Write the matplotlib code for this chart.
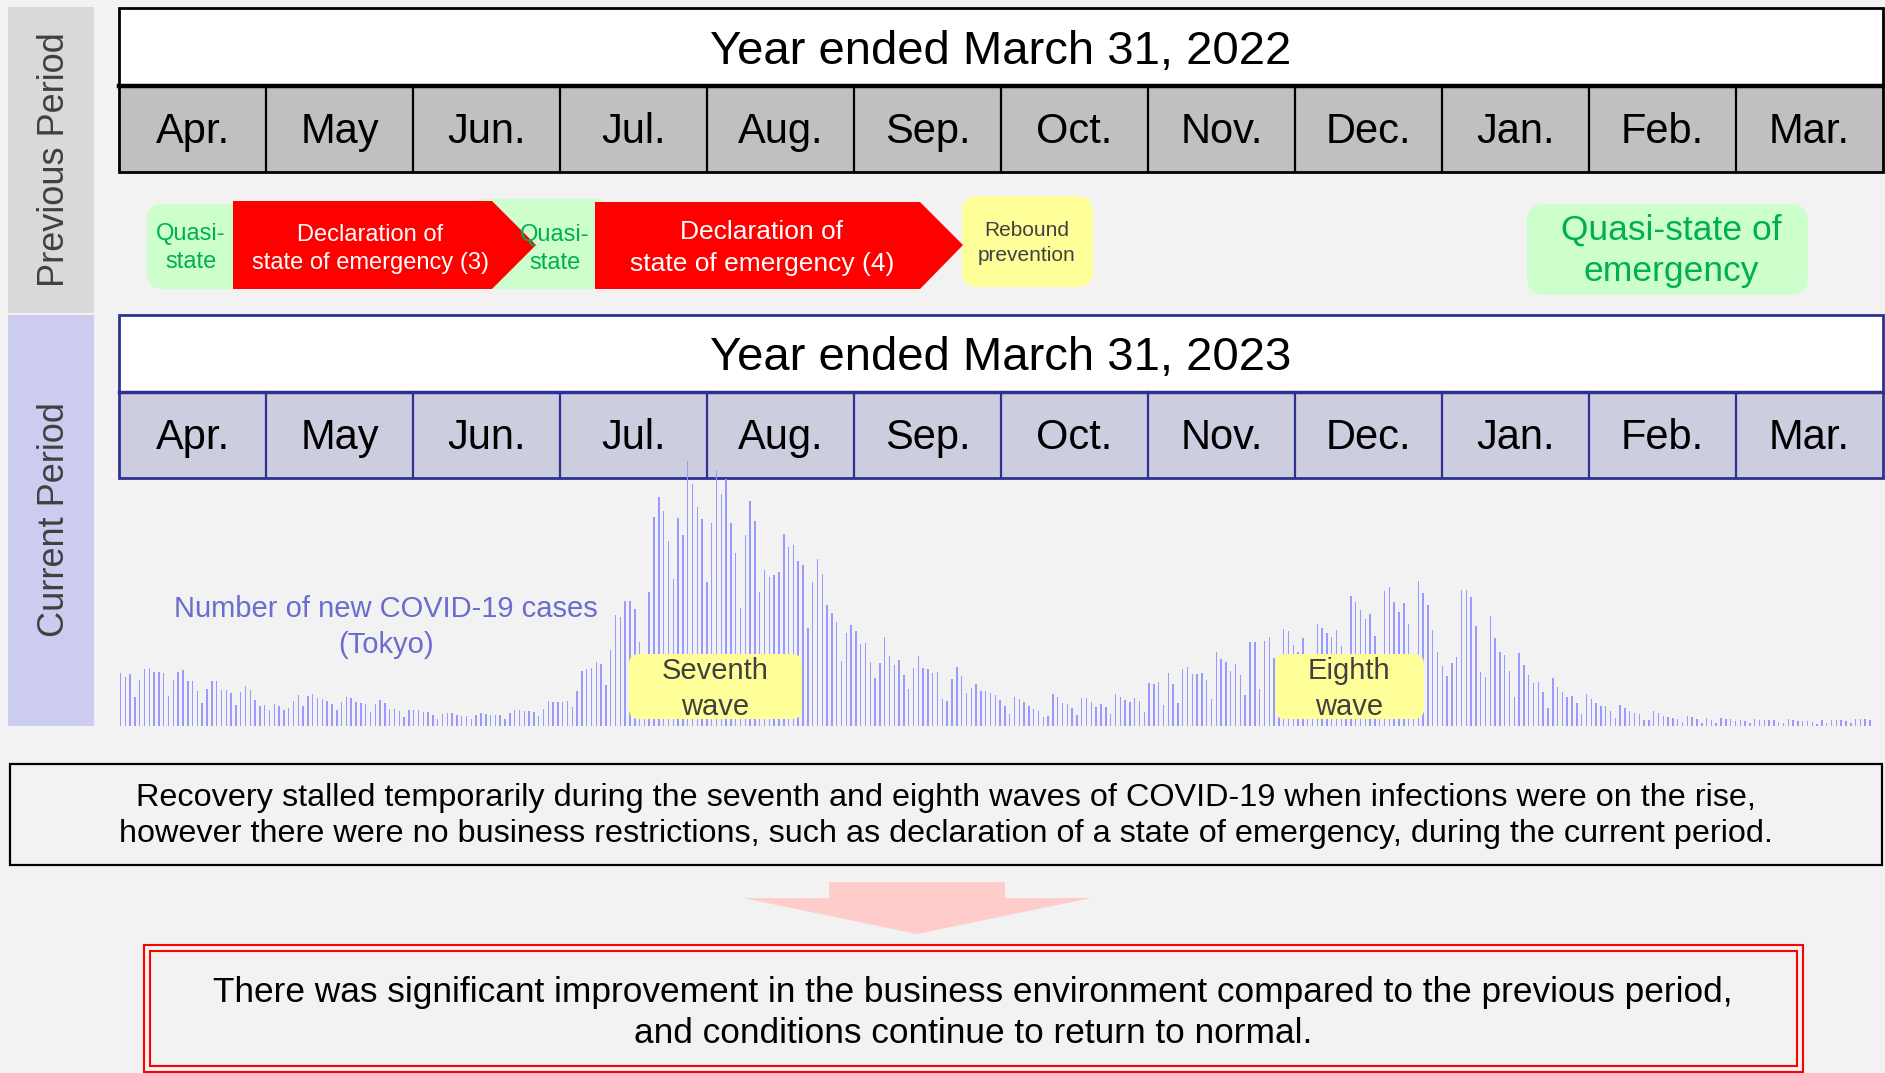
import matplotlib.pyplot as plt
from matplotlib.patches import Rectangle, FancyBboxPatch, Polygon
import numpy as np

plt.rcParams['font.family'] = ['Liberation Sans', 'DejaVu Sans']

months = ["Apr.", "May", "Jun.", "Jul.", "Aug.", "Sep.", "Oct.", "Nov.", "Dec.", "Jan.", "Feb.", "Mar."]
prev_title = "Year ended March 31, 2022"
curr_title = "Year ended March 31, 2023"

# daily new COVID-19 cases in Tokyo, Apr 2022 - Mar 2023
cases_apr = [8040, 7430, 7930, 4420, 7020, 8690, 8800, 8190, 8190, 8080, 4580, 7020, 8240, 8540, 6860,
             6860, 5290, 3510, 5640, 6820, 6820, 5490, 5490, 4990, 3200, 5140, 6050, 5490, 3970, 3050]
cases_may = [3200, 2440, 3400, 3050, 2440, 2750, 3860, 4770, 3050, 4530, 4830, 4270, 4120, 3810, 3400,
             2440, 3710, 4380, 4320, 3610, 3510, 3360, 2140, 3310, 4010, 3460, 2640, 2590, 2240, 1420, 2440]
cases_jun = [2440, 2440, 2140, 2090, 1630, 1070, 1880, 1940, 1940, 1630, 1570, 1570, 1070, 1630, 2030,
             1780, 1720, 1680, 1680, 1110, 2030, 2440, 2490, 2290, 2240, 2090, 1570, 2590, 3810, 3660]
cases_jul = [3660, 3660, 3860, 2850, 5340, 8390, 8690, 8800, 9710, 9460, 6250, 11590, 16930, 16670, 19060,
             19060, 17790, 12760, 10500, 20490, 31920, 34970, 32790, 28160, 22420, 31670, 29130, 40410,
             36860, 33450, 31570]
cases_aug = [22010, 30910, 38990, 35380, 37670, 30960, 26330, 17950, 29130, 34310, 31260, 20490, 23790,
             22770, 23030, 23440, 29330, 27350, 27600, 25160, 24550, 14900, 22010, 25470, 23180, 18450,
             17180, 15860, 9910, 14230, 15450]
cases_sep = [14490, 12510, 12610, 9710, 7370, 9560, 13620, 10680, 9300, 10070, 7780, 5690, 8890, 10680,
             8890, 8690, 8080, 8190, 4160, 3860, 7170, 9000, 7630, 4990, 5800, 6410, 5340, 5340, 5080, 4680]
cases_oct = [3970, 3000, 1780, 4420, 4160, 3660, 3050, 2640, 2240, 1420, 1530, 4880, 4420, 3560, 3360,
             2790, 1680, 4270, 4270, 3610, 2950, 3300, 2900, 1830, 4830, 4420, 3970, 3610, 4220, 3760, 2140]
cases_nov = [6610, 6410, 6710, 3200, 8030, 6350, 3560, 8740, 9040, 7980, 7930, 8040, 6970, 4120, 11240,
             10170, 9810, 8390, 9500, 7820, 4680, 12810, 12860, 5690, 12960, 13570, 10370, 5400, 14740, 14440]
cases_dec = [12350, 11330, 13370, 10500, 6000, 15560, 14950, 14180, 13570, 14590, 12200, 6500, 19870,
             18860, 17690, 16370, 17080, 13730, 7500, 20590, 21250, 18860, 17330, 18760, 15500, 9000,
             22110, 20280, 18400, 14590, 11240]
cases_jan = [9200, 7630, 9650, 10570, 20790, 20790, 19670, 15200, 8240, 7520, 16820, 13470, 11290, 10780,
             8340, 4470, 11180, 9260, 7730, 6610, 6660, 5140, 2750, 7370, 5990, 5140, 4370, 4580, 3460,
             1830, 4930]
cases_feb = [4070, 3560, 3000, 3050, 2340, 1170, 3160, 2700, 2240, 1980, 1780, 870, 870, 2290, 1940,
             1530, 1320, 1170, 1070, 560, 1530, 1320, 1120, 510, 1220, 870, 460, 1220]
cases_mar = [1070, 1020, 760, 870, 760, 410, 1070, 970, 870, 870, 920, 660, 410, 1020, 870, 710, 710,
             710, 610, 310, 870, 410, 970, 970, 920, 710, 410, 1070, 1070, 1070, 920]

cases = (cases_apr + cases_may + cases_jun + cases_jul + cases_aug + cases_sep + cases_oct
         + cases_nov + cases_dec + cases_jan + cases_feb + cases_mar)

W, H = 1885, 1073
BG = '#f2f2f2'
NAVY = '#2e3192'
GREEN_T = '#00b050'
GREEN_F = '#ccffcc'
YELLOW = '#ffff99'
DARK = '#404040'

fig = plt.figure(figsize=(W / 100, H / 100), dpi=100)
fig.patch.set_facecolor(BG)

# base layer in pixel coordinates (y down)
ax = fig.add_axes([0, 0, 1, 1])
ax.set_xlim(0, W)
ax.set_ylim(H, 0)
ax.axis('off')
ax.set_zorder(0)


def rbox(a, x0, y0, x1, y1, fc, r=14, ec='none', lw=0, z=1):
    a.add_patch(FancyBboxPatch((x0, y0), x1 - x0, y1 - y0,
                               boxstyle=f"round,pad=0,rounding_size={r}",
                               fc=fc, ec=ec, lw=lw, zorder=z))


def rect(a, x0, y0, x1, y1, fc='none', ec='none', lw=0, z=1):
    a.add_patch(Rectangle((x0, y0), x1 - x0, y1 - y0, fc=fc, ec=ec, lw=lw, zorder=z))


# side panels
rect(ax, 8, 7, 94, 313, fc='#d9d9d9')
rect(ax, 8, 315, 94, 726, fc='#ccccf0')
ax.text(55, 160, "Previous Period", rotation=90, ha='center', va='center', fontsize=26, color=DARK)
ax.text(55, 520, "Current Period", rotation=90, ha='center', va='center', fontsize=26, color=DARK)


def year_block(top, mid, bot, title, edge, fill, sep_lw):
    x0, x1 = 119, 1883
    rect(ax, x0, top, x1, mid, fc='white', z=1)
    rect(ax, x0, mid, x1, bot, fc=fill, z=1)
    step = (x1 - x0) / len(months)
    for k in range(1, len(months)):
        ax.plot([x0 + k * step] * 2, [mid, bot], color=edge, lw=1.6, zorder=2)
    ax.plot([x0, x1], [mid, mid], color=edge, lw=sep_lw, zorder=3)
    rect(ax, x0, top, x1, bot, ec=edge, lw=2, z=3)
    ax.text((x0 + x1) / 2, (top + mid) / 2 + 5, title, ha='center', va='center', fontsize=34, color='black')
    for k, m in enumerate(months):
        ax.text(x0 + (k + 0.5) * step, (mid + bot) / 2 + 3, m, ha='center', va='center',
                fontsize=30, color='black', zorder=4)


year_block(8, 86, 172, prev_title, 'black', '#c0c0c0', 3.2)
year_block(315, 392, 478, curr_title, NAVY, '#cdcde0', 2.5)

# previous period restriction timeline
rbox(ax, 147, 204, 260, 289, GREEN_F, r=16)
rbox(ax, 470, 199, 610, 289, GREEN_F, r=16)
ax.add_patch(Polygon([(233, 201), (492, 201), (536, 245), (492, 289), (233, 289)], fc='#ff0000', ec='none', zorder=2))
ax.add_patch(Polygon([(595, 202), (920, 202), (963, 245), (920, 289), (595, 289)], fc='#ff0000', ec='none', zorder=2))
rbox(ax, 962, 196, 1093, 287, YELLOW, r=16)
rbox(ax, 1527, 204, 1808, 295, GREEN_F, r=18)

ax.text(191, 248, "Quasi-\nstate", ha='center', va='center', fontsize=17, color=GREEN_T, linespacing=1.36, zorder=3)
ax.text(370, 249, "Declaration of\nstate of emergency (3)", ha='center', va='center', fontsize=17,
        color='white', linespacing=1.36, zorder=3)
ax.text(555, 249, "Quasi-\nstate", ha='center', va='center', fontsize=17, color=GREEN_T, linespacing=1.36, zorder=3)
ax.text(762, 248, "Declaration of\nstate of emergency (4)", ha='center', va='center', fontsize=19,
        color='white', linespacing=1.45, zorder=3)
ax.text(1027, 243, "Rebound\nprevention", ha='center', va='center', fontsize=15, color=DARK,
        linespacing=1.37, zorder=3)
ax.text(1671, 251, "Quasi-state of\nemergency", ha='center', va='center', fontsize=25.5, color=GREEN_T,
        linespacing=1.31, zorder=3)

# daily cases bars
bx = fig.add_axes([118 / W, (H - 726) / H, 1765 / W, 265 / H])
bx.set_zorder(1)
bx.patch.set_visible(False)
days = np.arange(len(cases))
bx.bar(days, cases, width=0.3, color='#9999ff', linewidth=0)
bx.set_xlim(-0.52, 366.7)
bx.set_ylim(0, 40410)
bx.axis('off')

# overlay for labels above bars
ov = fig.add_axes([0, 0, 1, 1])
ov.set_xlim(0, W)
ov.set_ylim(H, 0)
ov.axis('off')
ov.set_zorder(2)
ov.patch.set_visible(False)

ov.text(386, 627, "Number of new COVID-19 cases\n(Tokyo)", ha='center', va='center', fontsize=21,
        color='#6b6bd0', linespacing=1.39)
rbox(ov, 629, 654, 802, 719, YELLOW, r=10)
rbox(ov, 1275, 654, 1424, 719, YELLOW, r=10)
ov.text(715, 689, "Seventh\nwave", ha='center', va='center', fontsize=21, color=DARK, linespacing=1.33, zorder=3)
ov.text(1349, 689, "Eighth\nwave", ha='center', va='center', fontsize=21, color=DARK, linespacing=1.33, zorder=3)

# summary boxes
rect(ov, 10, 764, 1882, 865, ec='black', lw=1.6)
ov.text(946, 816, "Recovery stalled temporarily during the seventh and eighth waves of COVID-19 when infections were on the rise,\n"
        "however there were no business restrictions, such as declaration of a state of emergency, during the current period.",
        ha='center', va='center', fontsize=23.3, color='black', linespacing=1.3)

ov.add_patch(Polygon([(829, 882), (1005, 882), (1005, 898), (1091, 898), (917, 934), (743, 898), (829, 898)],
                     fc='#ffcccc', ec='none'))

rect(ov, 144, 945, 1803, 1072, ec='#ff0000', lw=1.5)
rect(ov, 150, 951, 1797, 1066, ec='#ff0000', lw=1.5)
ov.text(973, 1013, "There was significant improvement in the business environment compared to the previous period,\n"
        "and conditions continue to return to normal.",
        ha='center', va='center', fontsize=25.4, color='black', linespacing=1.31)

fig.savefig("out.png", dpi=100, facecolor=BG)
